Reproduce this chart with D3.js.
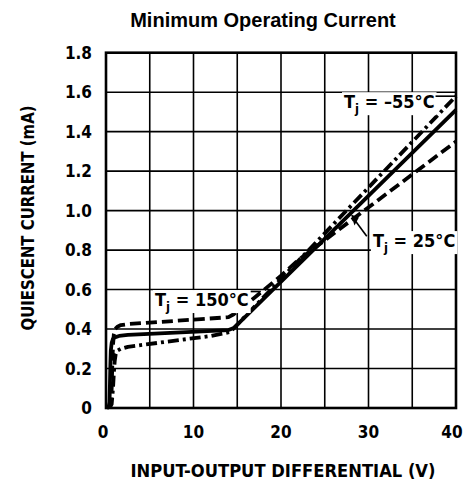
<!DOCTYPE html>
<html>
<head>
<meta charset="utf-8">
<script src="https://cdn.jsdelivr.net/npm/d3@7"></script>
<style>
  html, body { margin: 0; padding: 0; background: #fff; }
  svg { display: block; }
  .cond { font-family: "DejaVu Sans Condensed", "DejaVu Sans", sans-serif; font-stretch: condensed; font-weight: bold; }
</style>
</head>
<body>
<script>
// ---- data ----
const xTicks = [0, 10, 20, 30, 40];
const yTicks = [0, 0.2, 0.4, 0.6, 0.8, 1.0, 1.2, 1.4, 1.6, 1.8];
const xGrid = [5, 10, 15, 20, 25, 30, 35];
const yGrid = [0.2, 0.4, 0.6, 0.8, 1.0, 1.2, 1.4, 1.6];

// Tj = 25°C (solid)
const v25 = [0.1, 0.3, 0.4, 0.45, 0.5, 0.55, 0.65, 0.8, 1.0, 1.5, 2.5, 14, 14.6, 40];
const i25 = [0, 0.005, 0.03, 0.12, 0.22, 0.29, 0.33, 0.35, 0.358, 0.365, 0.37, 0.395, 0.405, 1.51];
// Tj = 150°C (dashed)
const v150 = [0.3, 0.55, 0.65, 0.72, 0.8, 0.9, 1.05, 1.3, 1.7, 2.5, 14, 14.6, 17, 20, 22, 40];
const i150 = [0, 0.02, 0.1, 0.22, 0.32, 0.375, 0.4, 0.412, 0.42, 0.425, 0.46, 0.475, 0.56, 0.67, 0.75, 1.35];
// Tj = -55°C (dash-dot)
const vm55 = [0.4, 0.65, 0.8, 0.9, 1.0, 1.1, 1.3, 1.7, 2.5, 12, 14.2, 40];
const im55 = [0, 0.02, 0.1, 0.18, 0.24, 0.27, 0.29, 0.30, 0.31, 0.365, 0.385, 1.58];

const title = "Minimum Operating Current";
const xTitle = "INPUT-OUTPUT DIFFERENTIAL (V)";
const yTitle = "QUIESCENT CURRENT (mA)";

// ---- chart ----
const W = 471, H = 485;
const svg = d3.select("body").append("svg").attr("width", W).attr("height", H);

const x = d3.scaleLinear().domain([0, 40]).range([106, 456]);
const y = d3.scaleLinear().domain([0, 1.8]).range([408, 52.7]);

// title
svg.append("text").attr("x", 263).attr("y", 27)
  .attr("text-anchor", "middle")
  .style("font-family", "'Liberation Sans', Arial, sans-serif")
  .style("font-weight", "bold").style("font-size", "20px")
  .text(title);

// grid
svg.append("g").selectAll("line").data(xGrid).join("line")
  .attr("x1", d => x(d)).attr("x2", d => x(d))
  .attr("y1", y(0)).attr("y2", y(1.8))
  .attr("stroke", "#000").attr("stroke-width", 1.6);
svg.append("g").selectAll("line").data(yGrid).join("line")
  .attr("y1", d => y(d)).attr("y2", d => y(d))
  .attr("x1", x(0)).attr("x2", x(40))
  .attr("stroke", "#000").attr("stroke-width", 1.6);

// frame
svg.append("rect").attr("x", x(0)).attr("y", y(1.8))
  .attr("width", x(40) - x(0)).attr("height", y(0) - y(1.8))
  .attr("fill", "none").attr("stroke", "#000").attr("stroke-width", 2.6);

// tick labels
svg.append("g").selectAll("text").data(xTicks).join("text")
  .attr("class", "cond")
  .attr("x", (d, i) => x(d) + (i === 0 ? -3 : (i === xTicks.length - 1 ? -4 : 0)))
  .attr("y", 438)
  .attr("text-anchor", "middle").style("font-size", "17px")
  .text(d => d);
svg.append("g").selectAll("text").data(yTicks).join("text")
  .attr("class", "cond")
  .attr("x", 92).attr("y", d => y(d) + 6)
  .attr("text-anchor", "end").style("font-size", "17px")
  .text(d => d === 0 ? "0" : d3.format(".1f")(d));

// axis titles
svg.append("text").attr("class", "cond")
  .attr("x", 283).attr("y", 477).attr("text-anchor", "middle")
  .style("font-size", "17px")
  .attr("textLength", 305).attr("lengthAdjust", "spacingAndGlyphs")
  .text(xTitle);
svg.append("text").attr("class", "cond")
  .attr("transform", "translate(34,218) rotate(-90)")
  .attr("text-anchor", "middle").style("font-size", "17px")
  .attr("textLength", 225).attr("lengthAdjust", "spacingAndGlyphs")
  .text(yTitle);

// curves
const line = d3.line().x(d => x(d[0])).y(d => y(d[1])).curve(d3.curveLinear);
const series = [
  { v: v150, i: i150, dash: "11,5" },
  { v: vm55, i: im55, dash: "11,4,3,4" },
  { v: v25, i: i25, dash: null }
];
series.forEach(s => {
  const pts = s.v.map((v, k) => [v, s.i[k]]);
  svg.append("path").datum(pts).attr("d", line)
    .attr("fill", "none").attr("stroke", "#000")
    .attr("stroke-width", 3.8)
    .attr("stroke-linejoin", "round")
    .attr("stroke-dasharray", s.dash);
});

// annotations
function label(xp, yp, main, sub, rest) {
  const g = svg.append("g");
  const t = g.append("text").attr("class", "cond")
    .attr("x", xp).attr("y", yp).style("font-size", "18px");
  t.append("tspan").text(main);
  t.append("tspan").attr("dy", 5).style("font-size", "13px").text(sub);
  t.append("tspan").attr("dy", -5).text(rest);
  const bb = t.node().getBBox();
  g.insert("rect", "text").attr("x", bb.x - 2).attr("y", bb.y + 1)
    .attr("width", bb.width + 4).attr("height", bb.height - 2).attr("fill", "#fff");
  return bb;
}

// Tj = -55°C
const b1 = label(x(27.2), y(1.6) + 16, "T", "j", " = \u201355\u00b0C");
svg.append("line").attr("x1", b1.x + b1.width + 1).attr("x2", x(40))
  .attr("y1", y(1.6) + 4).attr("y2", y(1.6) + 4)
  .attr("stroke", "#000").attr("stroke-width", 1.6);

// Tj = 25°C
const b2 = label(x(30.5), y(0.8) - 3, "T", "j", " = 25\u00b0C");
svg.append("line").attr("x1", x(29.8)).attr("y1", y(0.87))
  .attr("x2", x(28.3)).attr("y2", y(0.96))
  .attr("stroke", "#000").attr("stroke-width", 1.6);
svg.append("path")
  .attr("d", `M${x(28.0)},${y(0.98)} L${x(28.9)},${y(0.965)} L${x(28.4)},${y(0.925)} Z`)
  .attr("fill", "#000");

// Tj = 150°C
const b3 = label(x(5.6), y(0.4) - 23, "T", "j", " = 150\u00b0C");
svg.append("line").attr("x1", b3.x + b3.width + 2).attr("x2", x(17.7))
  .attr("y1", y(0.59)).attr("y2", y(0.59))
  .attr("stroke", "#000").attr("stroke-width", 1.6);
</script>
</body>
</html>
